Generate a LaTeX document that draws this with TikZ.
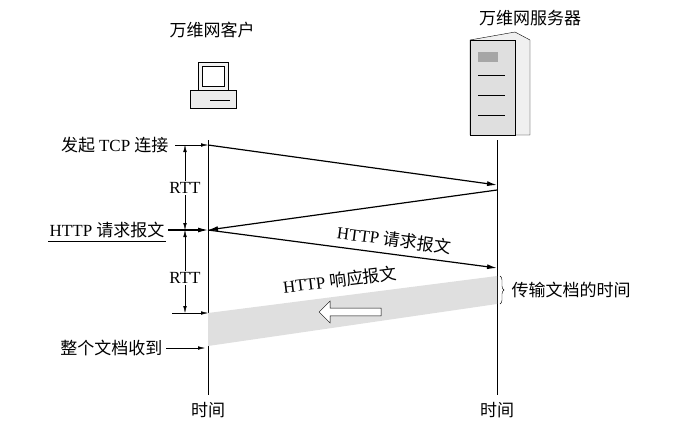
\documentclass[tikz,border=0pt]{standalone}
\usepackage{fontspec}
\setmainfont{Liberation Serif}
\newfontfamily\cjk{Noto Sans CJK SC}
\usetikzlibrary{arrows.meta,shapes.arrows,decorations.pathreplacing}
\begin{document}
\begin{tikzpicture}[x=1pt,y=-1pt,font=\fontsize{17}{20}\selectfont,
  msg/.style={line width=1.2pt,-{Latex[length=10pt,width=5pt]}},
  tick/.style={-{Latex[length=7pt,width=3.5pt]}},
  dim/.style={{Latex[length=7pt,width=3.5pt]}-{Latex[length=7pt,width=3.5pt]}}]
\useasboundingbox (0,0) rectangle (679,426);
% time lines
\coordinate (c0) at (208,140); \coordinate (c1) at (208,395);
\coordinate (s0) at (497,140); \coordinate (s1) at (497,395);
\draw (c0) -- (c1); \draw (s0) -- (s1);
\node (ct) at (208,410) {\cjk 时间};
\node (st) at (497,410) {\cjk 时间};
% hosts
\node (client) at (212,30) {\cjk 万维网客户};
\node (server) at (530,18) {\cjk 万维网服务器};
\draw[fill=gray!10] (198,62) rectangle (228,90);
\draw[fill=white] (202,66) rectangle (224,86);
\draw[fill=gray!15] (190,90) rectangle (236,108);
\draw (210,100) -- (230,100);
\draw[fill=gray!12] (470,40) -- (515,32) -- (530,40) -- (530,135) -- (470,135) -- cycle;
\draw[fill=gray!25] (470,40) rectangle (515,135);
\fill[gray!70] (478,52) rectangle (498,62);
\draw (478,75) -- (505,75) (478,95) -- (505,95) (478,115) -- (505,115);
% events
\coordinate (a) at (208,145); \coordinate (b) at (497,185);
\coordinate (b2) at (497,190); \coordinate (d) at (208,230);
\coordinate (e) at (497,268);
\draw[msg] (a) -- (b);
\draw[msg] (b2) -- (d);
\draw[msg] (d) -- (e) node[midway,above,sloped,xshift=40pt,yshift=3pt] {HTTP \cjk 请求报文};
% response band
\fill[gray!25] (208,313) -- (497,276) -- (497,304) -- (208,346) -- cycle;
\node[single arrow,draw,fill=white,shape border rotate=180+7,minimum height=62pt,
  minimum width=22pt,single arrow head extend=4pt,inner sep=2pt] (big) at (352,312) {};
\node[rotate=7] (resp) at (340,280) {HTTP \cjk 响应报文};
\draw[decorate,decoration={brace,amplitude=4pt}] (500,276) -- (500,304);
\node[anchor=east] (tr) at (508,290) {};
\node[anchor=west] (trt) at (508,290) {\cjk 传输文档的时间};
% left side
\node[anchor=east] (tcp) at (172,145) {\cjk 发起 \rmfamily TCP \cjk 连接};
\draw[tick] (175,145) -- (a);
\node[anchor=east] (req) at (168,230) {HTTP \cjk 请求报文};
\draw[very thick] ([xshift=2pt]req.south west) -- ([xshift=-2pt]req.south east);
\draw[msg] (req.east) -- (d);
\draw[tick] (172,313) -- (208,313);
\node[anchor=east] (all) at (166,348) {\cjk 整个文档收到};
\draw[tick] (all.east) -- (205,348);
\draw[dim] (185,145) -- (185,230);
\draw[dim] (185,230) -- (185,313);
\node[fill=white,inner sep=1pt] (r1) at (185,188) {RTT};
\node[fill=white,inner sep=1pt] (r2) at (185,278) {RTT};
\end{tikzpicture}
\end{document}
